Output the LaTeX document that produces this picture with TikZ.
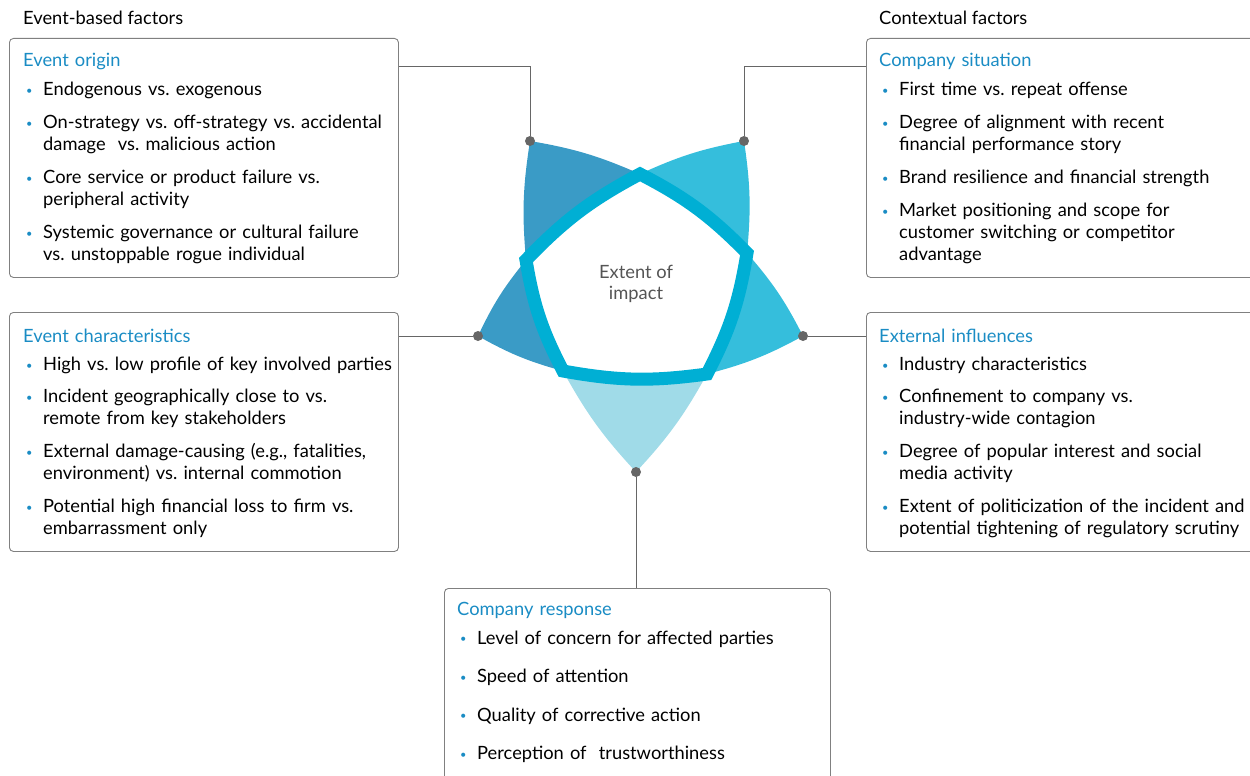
\documentclass[tikz,border=0pt]{standalone}
\usepackage{fontspec}
\setmainfont{Lato}
\usetikzlibrary{positioning}
\definecolor{keyblue}{HTML}{1A8CC4}
\definecolor{petaldark}{HTML}{3A9BC6}
\definecolor{petallight}{HTML}{35BEDC}
\definecolor{petalpale}{HTML}{A0DBE8}
\definecolor{framecyan}{HTML}{00AFD4}
\definecolor{linegray}{HTML}{666666}
\definecolor{boxgray}{HTML}{808080}
\definecolor{hubgray}{HTML}{555555}

\frenchspacing
\newcommand{\factoritem}[2][11pt]{\par\vspace{#1}\hangindent=20pt\hangafter=1\noindent\makebox[20pt][l]{\hspace{3pt}\raisebox{1.5pt}{\textcolor{keyblue}{\fontsize{11}{11}\selectfont\textbullet}}}{\let\\\newline #2}\par}

\tikzset{
    factorbox/.style = {
        rectangle,
        rounded corners=4pt,
        draw=boxgray,
        line width=0.9pt,
        anchor=north west,
        inner sep=0pt
    },
    factortext/.style = {
        font=\fontsize{18.3}{22}\selectfont,
        text width=385pt,
        align=left,
        inner sep=0pt,
        anchor=north west
    },
    heading/.style = {
        font=\fontsize{18.3}{22}\selectfont,
        inner sep=0pt,
        anchor=west
    },
    petal/.style = {
        draw=none
    },
    pindot/.style = {
        circle,
        fill=linegray,
        inner sep=0pt,
        minimum size=10pt
    },
    link/.style = {
        draw=linegray,
        line width=0.9pt
    }
}

\begin{document}
\begin{tikzpicture}[x=1pt,y=-1pt]
    \useasboundingbox (0,0) rectangle (1250,776);

    % pentagon corners and petal tips
    \coordinate (vt) at (640,174);
    \coordinate (vr) at (747,253);
    \coordinate (vbr) at (707,374);
    \coordinate (vbl) at (563,371);
    \coordinate (vl) at (526,260);
    \coordinate (ptl) at (530,141);
    \coordinate (ptr) at (744,141);
    \coordinate (pr) at (803,336);
    \coordinate (pb) at (636,472);
    \coordinate (pl) at (478,336);

    \fill[petal, petalpale] (pb) to[bend right=7] (vbr) -- (vbl) to[bend right=7] (pb);
    \fill[petal, petaldark] (pl) to[bend right=7] (vbl) -- (vl) to[bend right=7] (pl);
    \fill[petal, petaldark] (ptl) to[bend right=7] (vl) -- (vt) to[bend right=7] (ptl);
    \fill[petal, petallight] (pr) to[bend right=7] (vr) -- (vbr) to[bend right=7] (pr);
    \fill[petal, petallight] (ptr) to[bend right=7] (vt) -- (vr) to[bend right=7] (ptr);

    \draw[framecyan, fill=white, line width=13pt, line join=miter]
        (vt) to[bend left=9] (vr) to[bend left=9] (vbr) to[bend left=9] (vbl)
        to[bend left=9] (vl) to[bend left=9] (vt) -- cycle;

    \node [font=\fontsize{18.3}{21}\selectfont, text=hubgray, align=center] (hub) at (636,284) {Extent of\\impact};

    \node [pindot] (dtl) at (ptl) {};
    \node [pindot] (dtr) at (ptr) {};
    \node [pindot] (dr) at (pr) {};
    \node [pindot] (db) at (pb) {};
    \node [pindot] (dl) at (pl) {};

    % headings
    \node [heading] (eventhead) at (23,18) {Event-based factors};
    \node [heading] (contexthead) at (879,18) {Contextual factors};

    % boxes
    \node [factorbox, minimum width=389pt, minimum height=239pt] (origin) at (9,38) {};
    \node [factorbox, minimum width=389pt, minimum height=239pt] (character) at (9,312) {};
    \node [factorbox, minimum width=390pt, minimum height=239pt] (situation) at (866,38) {};
    \node [factorbox, minimum width=390pt, minimum height=239pt] (influences) at (866,312) {};
    \node [factorbox, minimum width=386pt, minimum height=194pt] (response) at (444,588) {};

    \node [factortext] (origintext) at (23,53) {\textcolor{keyblue}{Event origin}
        \factoritem[7pt]{Endogenous vs. exogenous}
        \factoritem{On-strategy vs. off-strategy vs. accidental\\damage\ \ vs. malicious action}
        \factoritem{Core service or product failure vs.\\peripheral activity}
        \factoritem{Systemic governance or cultural failure\\vs. unstoppable rogue individual}};
    \node [factortext] (charactertext) at (23,329) {\textcolor{keyblue}{Event characteristics}
        \factoritem[6pt]{High vs. low profile of key involved parties}
        \factoritem[10pt]{Incident geographically close to vs.\\remote from key stakeholders}
        \factoritem{External damage-causing (e.g., fatalities,\\environment) vs. internal commotion}
        \factoritem{Potential high financial loss to firm vs.\\embarrassment only}};
    \node [factortext] (situationtext) at (879,53) {\textcolor{keyblue}{Company situation}
        \factoritem[7pt]{First time vs. repeat offense}
        \factoritem{Degree of alignment with recent\\financial performance story}
        \factoritem{Brand resilience and financial strength}
        \factoritem{Market positioning and scope for\\customer switching or competitor\\advantage}};
    \node [factortext] (influencestext) at (879,329) {\textcolor{keyblue}{External influences}
        \factoritem[6pt]{Industry characteristics}
        \factoritem[10pt]{Confinement to company vs.\\industry-wide contagion}
        \factoritem{Degree of popular interest and social\\media activity}
        \factoritem{Extent of politicization of the incident and\\potential tightening of regulatory scrutiny}};
    \node [factortext] (responsetext) at (457,602) {\textcolor{keyblue}{Company response}
        \factoritem[7pt]{Level of concern for affected parties}
        \factoritem[16.5pt]{Speed of attention}
        \factoritem[16.5pt]{Quality of corrective action}
        \factoritem[16.5pt]{Perception of\ \ trustworthiness}};

    % connectors
    \draw[link] (dtl) |- ([yshift=-28pt]origin.north east);
    \draw[link] (dtr) |- ([yshift=-28pt]situation.north west);
    \draw[link] (dl) -- (dl -| character.east);
    \draw[link] (dr) -- (dr -| influences.west);
    \draw[link] (db) -- (db |- response.north);
\end{tikzpicture}
\end{document}
